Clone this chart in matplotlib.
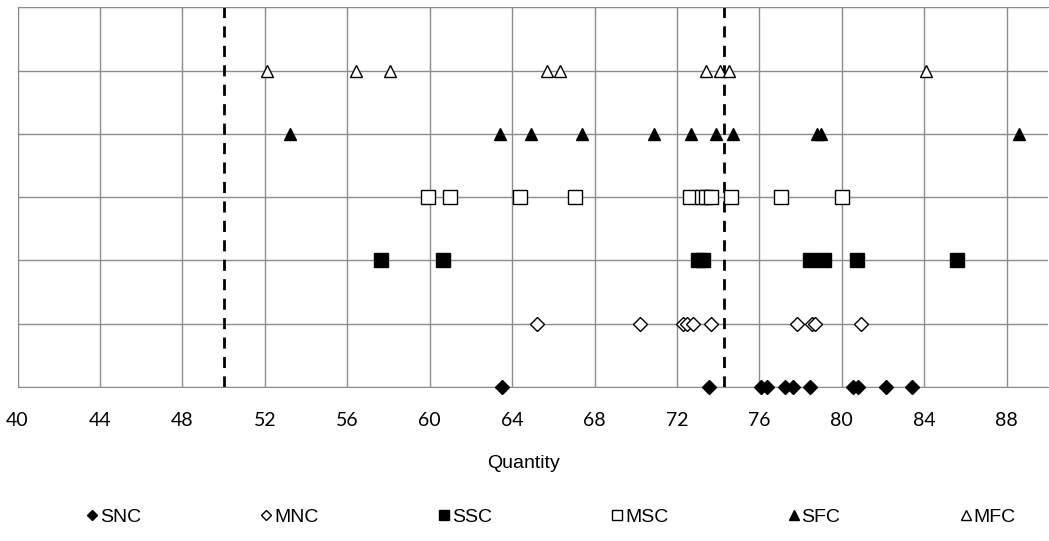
import matplotlib.pyplot as plt

series_names = ["SNC", "MNC", "SSC", "MSC", "SFC", "MFC"]
row_levels = [0, 1, 2, 3, 4, 5]

snc = [63.5, 73.55, 76.1, 76.35, 77.25, 77.65, 78.45, 80.55, 80.8, 82.15, 83.4]
mnc = [65.2, 70.2, 72.3, 72.5, 72.8, 73.65, 77.8, 78.55, 78.7, 80.95]
ssc = [57.65, 60.65, 73.0, 73.25, 78.45, 79.15, 80.75, 85.6]
msc = [59.9, 61.0, 64.4, 67.05, 72.65, 73.2, 73.4, 73.65, 74.6, 77.05, 80.0]
sfc = [53.2, 63.4, 64.9, 67.4, 70.9, 72.7, 73.9, 74.7, 78.8, 79.0, 88.6]
mfc = [52.1, 56.4, 58.05, 65.7, 66.3, 73.4, 74.1, 74.5, 84.1]

threshold_lines = [50.0, 74.3]
x_ticks = list(range(40, 89, 4))


def plot_graph():
    fig = plt.figure(figsize=(10.49, 5.41), dpi=100)
    ax = fig.add_axes([0.0167, 0.2847, 0.9823, 0.7018])

    styles = [
        ("D", "black", 7),
        ("D", "white", 7),
        ("s", "black", 9.5),
        ("s", "white", 9.5),
        ("^", "black", 9),
        ("^", "white", 9),
    ]
    data = [snc, mnc, ssc, msc, sfc, mfc]
    for name, level, values, (marker, face, size) in zip(series_names, row_levels, data, styles):
        ax.plot(values, [level] * len(values), linestyle="none", marker=marker,
                markersize=size, markerfacecolor=face, markeredgecolor="black",
                markeredgewidth=1.0, label=name, clip_on=False, zorder=3)

    for xv in threshold_lines:
        ax.axvline(xv, color="black", linestyle=(0, (4, 3)), linewidth=2, zorder=2)

    ax.set_xlim(40, 90)
    ax.set_ylim(0, 6)
    ax.set_xticks(x_ticks)
    ax.set_yticks(range(0, 7))
    ax.set_yticklabels([])
    ax.grid(True, color="#8c8c8c", linewidth=1.0)
    ax.set_axisbelow(True)
    ax.tick_params(length=0, pad=18)
    for lab in ax.get_xticklabels():
        lab.set_fontfamily("Lato")
        lab.set_fontsize(14)
    for side in ["left", "bottom", "top"]:
        ax.spines[side].set_color("#8c8c8c")
    ax.spines["right"].set_visible(False)

    fig.text(523 / 1049, 1 - 463 / 541, "Quantity", ha="center", va="center",
             fontsize=14, fontfamily="Liberation Sans")

    handles, labels = ax.get_legend_handles_labels()
    fig.legend(handles, labels, loc="center", bbox_to_anchor=(551 / 1049, 1 - 517 / 541),
               ncol=6, frameon=False, markerscale=0.75, handlelength=0.6,
               handletextpad=0.1, columnspacing=6.15,
               prop={"family": "Liberation Sans", "size": 14})

    fig.savefig("out.png", dpi=100)


def main():
    plot_graph()


if __name__ == '__main__':
    main()
